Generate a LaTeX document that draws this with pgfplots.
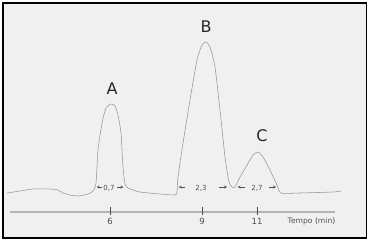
\documentclass[border=0pt]{standalone}
\usepackage{pgfplots}
\pgfplotsset{compat=1.18}
\usepackage{fontspec}
\setmainfont{DejaVu Sans}
\definecolor{bg}{HTML}{F0F0F0}
\definecolor{curve}{HTML}{969696}
\definecolor{axl}{HTML}{B4B4B4}
\definecolor{txt}{HTML}{505050}
\begin{document}
\begin{tikzpicture}
\begin{axis}[
  scale only axis, width=369pt, height=243pt,
  xmin=0, xmax=369, ymin=0, ymax=243, y dir=reverse,
  enlargelimits=false, axis lines=none, clip=false,
]
% frame and background
\fill[white] (axis cs:0,0) rectangle (axis cs:369,243);
\filldraw[fill=bg, draw=black, line width=1.3pt] (axis cs:3,3) rectangle (axis cs:366.5,238);
% time axis
\draw[axl, line width=1.3pt] (axis cs:10,212) -- (axis cs:335,212);
\draw[txt, line width=0.6pt] (axis cs:110,207) -- (axis cs:110,215);
\draw[txt, line width=0.6pt] (axis cs:202,207) -- (axis cs:202,215);
\draw[txt, line width=0.6pt] (axis cs:257,207) -- (axis cs:257,215);
\node[txt, font=\fontsize{8.5}{10}\selectfont] at (axis cs:110,221.5) {6};
\node[txt, font=\fontsize{8.5}{10}\selectfont] at (axis cs:202,221.5) {9};
\node[txt, font=\fontsize{8.5}{10}\selectfont] at (axis cs:257,221.5) {11};
\node[txt, font=\fontsize{7.6}{9}\selectfont] at (axis cs:311.5,221.5) {Tempo (min)};
% chromatogram
\addplot[curve, line width=0.55pt, smooth, tension=0.35] coordinates {
(7,193) (20,191) (33,189) (50,189) (58,190) (63,193) (70,195) (78,196) (88,194) (93,191)
(96,183) (98,150) (102,123) (106,108) (111,104) (115,106) (118,115) (121,133) (123,167)
(125,184) (128,188) (140,192) (160,194) (175,195) (177,192) (178,177) (183,143) (190,100)
(197,60) (202,45) (206,42) (210,47) (215,67) (220,110) (225,157) (229,182) (232,187)
(235,187) (240,177) (247,165) (253,155) (258,152) (263,157) (270,170) (277,185) (281,193)
(300,193) (333,192) (341,191)
};
% peak labels
\node[text=black!85, font=\fontsize{16}{18}\selectfont] at (axis cs:112,89) {A};
\node[text=black!85, font=\fontsize{16}{18}\selectfont] at (axis cs:206,27) {B};
\node[text=black!85, font=\fontsize{16}{18}\selectfont] at (axis cs:262,136) {C};
% widths
\node[txt, font=\fontsize{7}{8}\selectfont] at (axis cs:109,188) {0,7};
\draw[-stealth, txt, line width=0.4pt] (axis cs:102,187) -- (axis cs:96.5,187);
\draw[-stealth, txt, line width=0.4pt] (axis cs:117,187) -- (axis cs:123.5,187);
\node[txt, font=\fontsize{7}{8}\selectfont] at (axis cs:201,188) {2,3};
\draw[-stealth, txt, line width=0.4pt] (axis cs:185,187) -- (axis cs:178.5,187);
\draw[-stealth, txt, line width=0.4pt] (axis cs:219,187) -- (axis cs:227,187);
\node[txt, font=\fontsize{7}{8}\selectfont] at (axis cs:257,188) {2,7};
\draw[-stealth, txt, line width=0.4pt] (axis cs:245,187) -- (axis cs:237.5,187);
\draw[-stealth, txt, line width=0.4pt] (axis cs:269,187) -- (axis cs:276,187);
\end{axis}
\end{tikzpicture}
\end{document}
